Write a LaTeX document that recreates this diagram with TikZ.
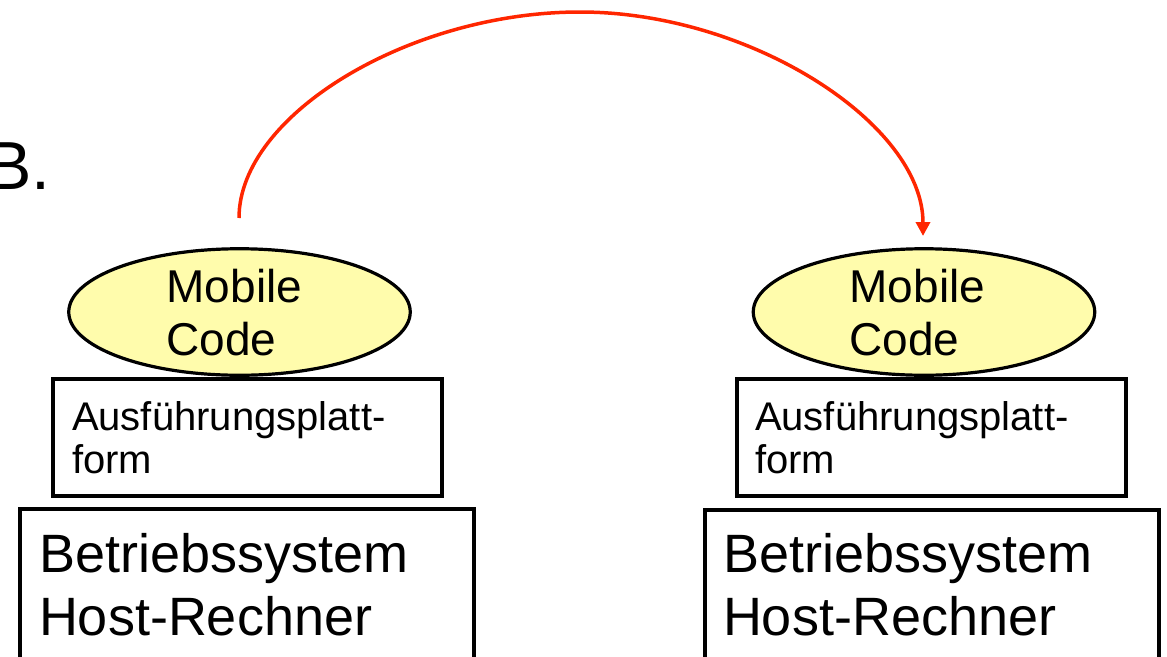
\documentclass[tikz,border=0pt]{standalone}
\usepackage{fontspec}
\setmainfont{Liberation Sans}
\usetikzlibrary{arrows.meta,shapes.geometric}
\definecolor{arrowred}{RGB}{255,38,0}
\definecolor{codeyellow}{RGB}{255,252,172}
\newcommand\twolines[2]{\vtop{\hbox{#1}\hbox{#2}}}
\tikzset{
  codeell/.style={draw=black, line width=3.2pt, fill=codeyellow, ellipse, inner sep=0pt,
    minimum width=341.5pt, minimum height=126.5pt},
  boxline/.style={draw=black, line width=3.2pt},
  txt/.style={inner sep=0pt, outer sep=0pt, anchor=base west, text=black},
  codetxt/.style={txt, font=\fontsize{46}{53}\selectfont},
  plattxt/.style={txt, font=\fontsize{40}{43}\selectfont},
  ostxt/.style={txt, font=\fontsize{54}{63}\selectfont},
  migrate/.style={draw=arrowred, line width=3.5pt, -{Triangle[length=14pt,width=14pt]}}
}
\begin{document}
\begin{tikzpicture}[x=1pt,y=-1pt]
\useasboundingbox (0,0) rectangle (1167,656);
% partially visible heading
\node[txt, font=\fontsize{68}{80}\selectfont] (hdr) at (-13.6,189) {B.};
% left host
\draw[boxline] (20,509) rectangle (474,700);
\node[ostxt] (osL) at (39,572) {\twolines{Betriebssystem}{Host-Rechner}};
\draw[boxline] (53,379) rectangle (442,496);
\node[plattxt] (plL) at (72,430) {\twolines{Ausführungsplatt-}{form}};
\node[codeell] (mcL) at (239.5,312) {};
\node[codetxt] (mcLt) at (166.6,302) {\twolines{Mobile}{Code}};
% right host
\draw[boxline] (705,510) rectangle (1159,700);
\node[ostxt] (osR) at (723,572) {\twolines{Betriebssystem}{Host-Rechner}};
\draw[boxline] (737,379) rectangle (1126,496);
\node[plattxt] (plR) at (755,430) {\twolines{Ausführungsplatt-}{form}};
\node[codeell] (mcR) at (924,312) {};
\node[codetxt] (mcRt) at (849.6,302) {\twolines{Mobile}{Code}};
% migration arrow
\coordinate (arrS) at (239,218);
\coordinate (arrTop) at (580,12);
\coordinate (arrE) at (923,236);
\draw[migrate] (arrS) .. controls (239,115) and (409.5,12) .. (arrTop)
  .. controls (750.5,12) and (923,124) .. (arrE);
\end{tikzpicture}
\end{document}
